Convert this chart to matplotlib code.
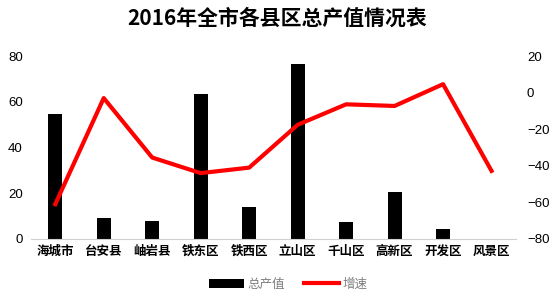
import matplotlib.pyplot as plt
import numpy as np

plt.rcParams['font.family'] = ['Noto Sans CJK SC', 'DejaVu Sans']

districts = ["海城市", "台安县", "岫岩县", "铁东区", "铁西区", "立山区", "千山区", "高新区", "开发区", "风景区"]
output_value = [54.5, 9.3, 7.9, 63.3, 14.1, 76.3, 7.3, 20.5, 4.2, 0]
growth = [-61, -3, -35.5, -44, -41, -17.6, -6.4, -7.3, 4.6, -42.8]

num_font = ['Liberation Sans', 'DejaVu Sans']

fig = plt.figure(figsize=(5.54, 2.99), dpi=100)
ax = fig.add_axes([0.056, 0.2007, 0.875, 0.612])
x = np.arange(len(districts))

bars = ax.bar(x, output_value, width=0.29, color="black", label="总产值", zorder=2)
ax.set_ylim(0, 80)
ax.set_xlim(-0.5, len(districts) - 0.5)
ax.set_yticks([0, 20, 40, 60, 80])
ax.set_xticks(x)
ax.set_xticklabels(districts, fontsize=9, fontweight="bold")
ax.tick_params(axis="y", length=0, labelsize=9.5, pad=6)
ax.tick_params(axis="x", length=0, pad=4)
for t in ax.get_yticklabels():
    t.set_family(num_font)
for s in ["top", "left", "right"]:
    ax.spines[s].set_visible(False)
ax.spines["bottom"].set_color("#d0d0d0")

ax2 = ax.twinx()
line, = ax2.plot(x, growth, color="#ff0000", lw=3, label="增速", zorder=3)
ax2.set_ylim(-80, 20)
ax2.set_yticks([-80, -60, -40, -20, 0, 20])
ax2.tick_params(axis="y", length=0, labelsize=9.5, pad=8)
for t in ax2.get_yticklabels():
    t.set_family(num_font)
for s in ax2.spines.values():
    s.set_visible(False)

fig.suptitle("2016年全市各县区总产值情况表", fontsize=15, fontweight="bold", y=0.975)
leg = fig.legend([bars, line], ["总产值", "增速"], loc="lower center", ncol=2,
                 bbox_to_anchor=(0.52, -0.01), frameon=False, fontsize=9,
                 handlelength=2.8, columnspacing=1.5, handletextpad=0.3)
for t in leg.get_texts():
    t.set_color("#7f7f7f")

fig.savefig("out.png", dpi=100)
